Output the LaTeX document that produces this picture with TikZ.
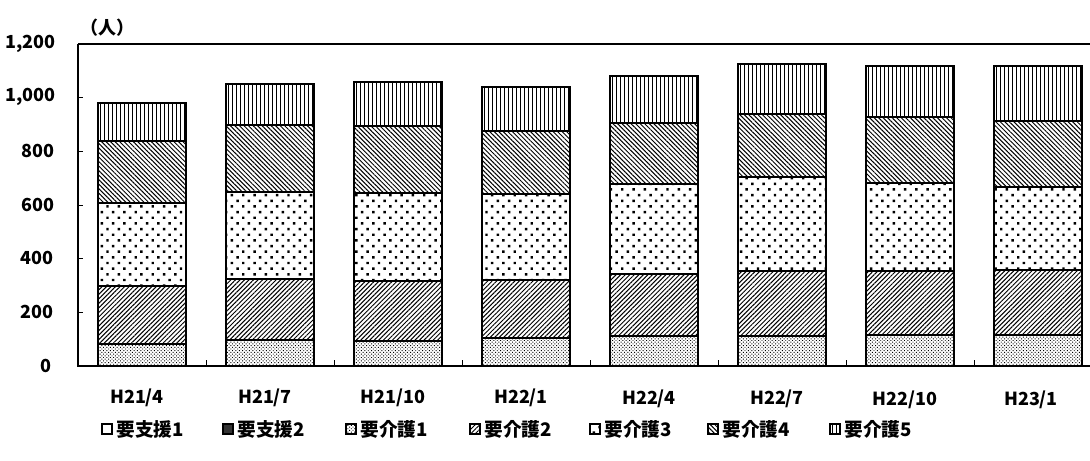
\documentclass[tikz,border=0pt]{standalone}
\usepackage{fontspec}
\setmainfont{Noto Sans CJK JP}
\usetikzlibrary{patterns,patterns.meta}

\tikzset{every picture/.style={line width=0.75pt}}
\tikzset{
	kaigo1/.style={draw,line width=1.5pt,pattern={Dots[angle=45,distance=1.8pt,radius=0.5pt]}},
	kaigo2/.style={draw,line width=1.5pt,pattern={Lines[angle=45,distance=2.4pt,line width=0.75pt]}},
	kaigo3/.style={draw,line width=1.5pt,pattern={Dots[angle=45,distance=6pt,radius=1.3pt]}},
	kaigo4/.style={draw,line width=1.5pt,pattern={Lines[angle=-45,distance=2.4pt,line width=0.75pt]}},
	kaigo5/.style={draw,line width=1.5pt,pattern={Lines[angle=90,distance=3pt,line width=0.75pt]}},
	shien1/.style={draw,line width=1.4pt,fill=white},
	shien2/.style={draw,line width=1.4pt,fill=black!80},
	legbox/.style={line width=1.4pt},
	axislab/.style={inner sep=0.75pt,font=\fontsize{13.5}{13.5}\selectfont\bfseries},
	leglab/.style={anchor=west,inner sep=0.75pt,font=\fontsize{14}{14}\selectfont\bfseries}
}

\begin{document}
\begin{tikzpicture}[x=0.75pt,y=0.75pt,yscale=-1,xscale=1]
	\path[use as bounding box] (0,0) rectangle (1090,461);
	
	%Shape: Plot frame top
	\draw [line width=1.2pt] (78,44) -- (1090,44) ;
	
	%Shape: Bar H21/4
	\draw [kaigo1] (98,366) rectangle (186,344) ;
	\draw [kaigo2] (98,344) rectangle (186,286) ;
	\draw [kaigo3] (98,286) rectangle (186,203) ;
	\draw [kaigo4] (98,203) rectangle (186,141) ;
	\draw [kaigo5] (98,141) rectangle (186,103) ;
	%Shape: Bar H21/7
	\draw [kaigo1] (226,366) rectangle (314,340) ;
	\draw [kaigo2] (226,340) rectangle (314,279) ;
	\draw [kaigo3] (226,279) rectangle (314,192) ;
	\draw [kaigo4] (226,192) rectangle (314,125) ;
	\draw [kaigo5] (226,125) rectangle (314,84) ;
	%Shape: Bar H21/10
	\draw [kaigo1] (354,366) rectangle (442,341) ;
	\draw [kaigo2] (354,341) rectangle (442,281) ;
	\draw [kaigo3] (354,281) rectangle (442,193) ;
	\draw [kaigo4] (354,193) rectangle (442,126) ;
	\draw [kaigo5] (354,126) rectangle (442,82) ;
	%Shape: Bar H22/1
	\draw [kaigo1] (482,366) rectangle (570,338) ;
	\draw [kaigo2] (482,338) rectangle (570,280) ;
	\draw [kaigo3] (482,280) rectangle (570,194) ;
	\draw [kaigo4] (482,194) rectangle (570,131) ;
	\draw [kaigo5] (482,131) rectangle (570,87) ;
	%Shape: Bar H22/4
	\draw [kaigo1] (610,366) rectangle (698,336) ;
	\draw [kaigo2] (610,336) rectangle (698,274) ;
	\draw [kaigo3] (610,274) rectangle (698,184) ;
	\draw [kaigo4] (610,184) rectangle (698,123) ;
	\draw [kaigo5] (610,123) rectangle (698,76) ;
	%Shape: Bar H22/7
	\draw [kaigo1] (738,366) rectangle (826,336) ;
	\draw [kaigo2] (738,336) rectangle (826,271) ;
	\draw [kaigo3] (738,271) rectangle (826,177) ;
	\draw [kaigo4] (738,177) rectangle (826,114) ;
	\draw [kaigo5] (738,114) rectangle (826,64) ;
	%Shape: Bar H22/10
	\draw [kaigo1] (866,366) rectangle (954,335) ;
	\draw [kaigo2] (866,335) rectangle (954,271) ;
	\draw [kaigo3] (866,271) rectangle (954,183) ;
	\draw [kaigo4] (866,183) rectangle (954,117) ;
	\draw [kaigo5] (866,117) rectangle (954,66) ;
	%Shape: Bar H23/1
	\draw [kaigo1] (994,366) rectangle (1082,335) ;
	\draw [kaigo2] (994,335) rectangle (1082,270) ;
	\draw [kaigo3] (994,270) rectangle (1082,187) ;
	\draw [kaigo4] (994,187) rectangle (1082,121) ;
	\draw [kaigo5] (994,121) rectangle (1082,66) ;
	
	%Shape: Axis 2D
	\draw [line width=1.5pt] (78,44) -- (78,366) -- (1090,366) ;
	%Straight Lines: ticks
	\draw (78,97) -- (83,97) (78,151) -- (83,151) (78,205) -- (83,205) (78,258) -- (83,258) (78,312) -- (83,312) ;
	\draw (206,366) -- (206,360) (334,366) -- (334,360) (462,366) -- (462,360) (590,366) -- (590,360) (718,366) -- (718,360) (846,366) -- (846,360) (974,366) -- (974,360) ;
	
	% Text Node
	\draw (107,28) node [axislab] (unit) {（人）};
	% Text Node
	\draw (57,44) node [axislab,anchor=east] (ylab1200) {1,200};
	\draw (57,97) node [axislab,anchor=east] (ylab1000) {1,000};
	\draw (56,151) node [axislab,anchor=east] (ylab800) {800};
	\draw (56,205) node [axislab,anchor=east] (ylab600) {600};
	\draw (55,258) node [axislab,anchor=east] (ylab400) {400};
	\draw (55,312) node [axislab,anchor=east] (ylab200) {200};
	\draw (53,366) node [axislab,anchor=east] (ylab0) {0};
	% Text Node
	\draw (137,398) node [axislab] (xlab1) {H21/4};
	\draw (265,398) node [axislab] (xlab2) {H21/7};
	\draw (393,398) node [axislab] (xlab3) {H21/10};
	\draw (521,398) node [axislab] (xlab4) {H22/1};
	\draw (649,399) node [axislab] (xlab5) {H22/4};
	\draw (777,399) node [axislab] (xlab6) {H22/7};
	\draw (905,400) node [axislab] (xlab7) {H22/10};
	\draw (1031,400) node [axislab] (xlab8) {H23/1};
	
	%Shape: Legend boxes
	\draw [shien1] (102,424) rectangle (112,434) ;
	\draw [shien2] (223,424) rectangle (233,434) ;
	\draw [kaigo1,legbox] (346,424) rectangle (356,434) ;
	\draw [kaigo2,legbox] (470,424) rectangle (480,434) ;
	\draw [kaigo3,legbox] (590,424) rectangle (600,434) ;
	\draw [kaigo4,legbox] (708,424) rectangle (718,434) ;
	\draw [kaigo5,legbox] (830,424) rectangle (840,434) ;
	% Text Node
	\draw (115,429) node [leglab] (leg1) {要支援1};
	\draw (236,429) node [leglab] (leg2) {要支援2};
	\draw (359,429) node [leglab] (leg3) {要介護1};
	\draw (483,429) node [leglab] (leg4) {要介護2};
	\draw (603,429) node [leglab] (leg5) {要介護3};
	\draw (721,429) node [leglab] (leg6) {要介護4};
	\draw (843,429) node [leglab] (leg7) {要介護5};
	
\end{tikzpicture}
\end{document}
